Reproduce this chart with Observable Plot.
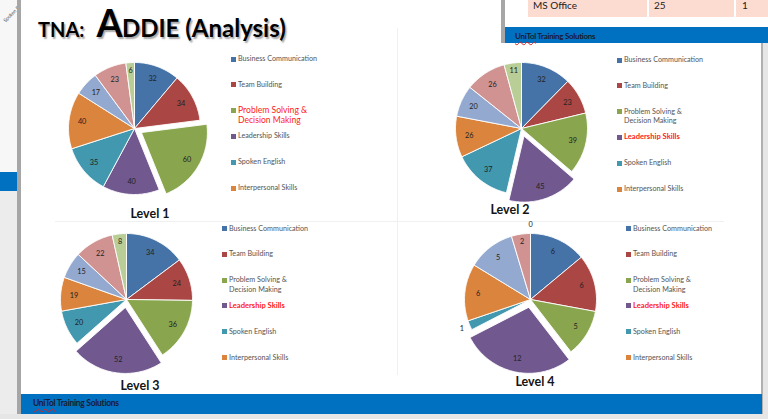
<!DOCTYPE html>
<html>
<head>
<meta charset="utf-8">
<script src="https://cdn.jsdelivr.net/npm/d3@7"></script>
<script src="https://cdn.jsdelivr.net/npm/@observablehq/plot@0.6"></script>
<style>
  html, body { margin: 0; padding: 0; }
  body { width: 768px; height: 419px; position: relative; overflow: hidden; background: #e6e6e6; font-family: Lato, "Open Sans", sans-serif; }
  .abs { position: absolute; }
  .uni { font-weight: bold; color: #1b1b33; font-size: 8.5px; letter-spacing: -0.3px; }
  .uni u { text-decoration: underline wavy #e02020; text-decoration-thickness: 0.7px; text-underline-offset: 2px; }
  .leg { position: absolute; font-size: 7.2px; color: #555; white-space: nowrap; line-height: 9.5px; }
  .sw { position: absolute; width: 5px; height: 5px; }
  .lvl { position: absolute; font-weight: bold; font-size: 12.5px; color: #151515; transform: translate(-50%, -50%); white-space: nowrap; }
</style>
</head>
<body>
<script>
// ---------- data ----------
const categories = ["Business Communication", "Team Building", "Problem Solving & Decision Making",
  "Leadership Skills", "Spoken English", "Interpersonal Skills", "Category 7", "Category 8", "Category 9"];
const legendLines = [["Business Communication"], ["Team Building"], ["Problem Solving  &", "Decision Making"],
  ["Leadership Skills"], ["Spoken English"], ["Interpersonal Skills"]];
const sliceColors = ["#4572A7", "#AA4643", "#89A54E", "#71588F", "#4198AF", "#DB843D", "#93A9CF", "#D19392", "#B9CD96"];
const level1 = [32, 34, 60, 40, 35, 40, 17, 23, 6];
const level2 = [32, 23, 39, 45, 37, 26, 20, 26, 11];
const level3 = [34, 24, 36, 52, 20, 19, 15, 22, 8];
const level4 = [6, 6, 5, 12, 1, 6, 5, 2, 0];
const levelTitles = ["Level 1", "Level 2", "Level 3", "Level 4"];
const explodedSlice = [2, 3, 3, 3];
const highlightedItem = [2, 3, 3, 3];
const highlightBold = [false, true, true, true];
const tableRow = ["MS Office", "25", "1"];

// ---------- layout ----------
const panels = [
  {values: level1, cx: 134, cy: 128, legX: 231, legY: 59,   titleX: 150, titleY: 213},
  {values: level2, cx: 521, cy: 128, legX: 617, legY: 60,   titleX: 510, titleY: 209},
  {values: level3, cx: 126, cy: 299, legX: 222, legY: 228.5, titleX: 140, titleY: 385},
  {values: level4, cx: 530, cy: 299, legX: 626, legY: 228.5, titleX: 535, titleY: 381}
];
const R = 66, HALF = 85, EXPLODE = 8, LEG_STEP = 25.8;

function el(tag, cls, style, html) {
  const e = document.createElement(tag);
  if (cls) e.className = cls;
  Object.assign(e.style, style || {});
  if (html != null) e.innerHTML = html;
  document.body.appendChild(e);
  return e;
}

// ---------- slide backgrounds ----------
el("div", "abs", {left: "0px", top: "0px", width: "17px", height: "172px", background: "#f7f7f7"});
el("div", "abs", {left: "0px", top: "172px", width: "17px", height: "19px", background: "#0070C0"});
el("div", "abs", {left: "0px", top: "191px", width: "17px", height: "228px", background: "#ececec"});
el("div", "abs", {left: "1px", top: "11px", fontSize: "5px", color: "#555", transform: "rotate(-45deg)", whiteSpace: "nowrap"}, "Spoken E");
el("div", "abs", {left: "17px", top: "0px", width: "4px", height: "416px", background: "#a6a6a6"});
el("div", "abs", {left: "21px", top: "0px", width: "741px", height: "414px", background: "#ffffff"});
el("div", "abs", {left: "761px", top: "0px", width: "2px", height: "414px", background: "#b0b0b0"});
el("div", "abs", {left: "21px", top: "394px", width: "741px", height: "20px", background: "#0070C0"});
el("div", "abs uni", {left: "33px", top: "398px"}, "<u>UniTol</u> Training Solutions");
// faint dividers
el("div", "abs", {left: "55px", top: "221px", width: "669px", height: "1px", background: "#f0f0f0"});
el("div", "abs", {left: "397px", top: "28px", width: "1px", height: "347px", background: "#f0f0f0"});
// overlapping slide top right
el("div", "abs", {left: "501px", top: "0px", width: "267px", height: "43px", background: "#ffffff"});
el("div", "abs", {left: "501px", top: "0px", width: "4px", height: "43px", background: "#a6a6a6"});
el("div", "abs", {left: "528px", top: "0px", width: "119px", height: "17px", background: "#FCDCD0"});
el("div", "abs", {left: "649px", top: "0px", width: "85px", height: "17px", background: "#FCDCD0"});
el("div", "abs", {left: "736px", top: "0px", width: "32px", height: "17px", background: "#FCDCD0"});
el("div", "abs", {left: "533px", top: "-1px", fontSize: "10px", color: "#222"}, tableRow[0]);
el("div", "abs", {left: "654px", top: "-1px", fontSize: "10px", color: "#222"}, tableRow[1]);
el("div", "abs", {left: "742px", top: "-1px", fontSize: "10px", color: "#222"}, tableRow[2]);
el("div", "abs", {left: "505px", top: "27px", width: "263px", height: "16px", background: "#0070C0"});
el("div", "abs uni", {left: "515px", top: "30.5px", fontSize: "8px"}, "<u>UniTol</u> Training Solutions");
el("div", "abs", {left: "763px", top: "43px", width: "5px", height: "376px", background: "#e6e6e6"});
el("div", "abs", {left: "0px", top: "414px", width: "768px", height: "5px", background: "#e6e6e6"});

// ---------- title ----------
el("div", "abs", {left: "38px", top: "0px", whiteSpace: "nowrap", fontWeight: "bold", color: "#000",
  fontSize: "37.5px", lineHeight: "1.2",
  textShadow: "1.5px 1.5px 1.5px rgba(0,0,0,0.35)", fontFamily: "Lato, sans-serif"},
  '<span style="font-size:20px;margin-right:12px">TNA:</span><span style="letter-spacing:-0.5px">A</span><span style="font-size:24px">DDIE (Analysis)</span>');

// ---------- pies ----------
panels.forEach((p, pi) => {
  const arcs = d3.pie().sort(null).value(d => d)(p.values);
  const total = d3.sum(p.values);
  const pts = [], labels = [];
  arcs.forEach((a, i) => {
    const mid = (a.startAngle + a.endAngle) / 2;
    const off = i === explodedSlice[pi] ? EXPLODE : 0;
    const ox = off * Math.sin(mid), oy = off * Math.cos(mid);
    if (a.value > 0) {
      const n = Math.max(2, Math.ceil((a.endAngle - a.startAngle) / 0.02));
      pts.push({slice: i, x: ox, y: oy, c: sliceColors[i]});
      for (let k = 0; k <= n; k++) {
        const t = a.startAngle + (a.endAngle - a.startAngle) * k / n;
        pts.push({slice: i, x: ox + R * Math.sin(t), y: oy + R * Math.cos(t), c: sliceColors[i]});
      }
      pts.push({slice: i, x: ox, y: oy, c: sliceColors[i]});
    }
    const lr = a.value <= 1 ? R * 1.13 : (a.value / total < 0.05 ? R * 0.88 : R * 0.8);
    labels.push({x: ox + lr * Math.sin(mid), y: oy + lr * Math.cos(mid), t: String(a.value)});
  });
  const svg = Plot.plot({
    width: HALF * 2, height: HALF * 2, margin: 0,
    x: {domain: [-HALF, HALF], axis: null},
    y: {domain: [-HALF, HALF], axis: null},
    color: {type: "identity"},
    style: {background: "transparent", fontFamily: "Lato, sans-serif", overflow: "visible"},
    marks: [
      Plot.line(pts, {x: "x", y: "y", z: "slice", fill: "c", stroke: "#ffffff", strokeWidth: 0.9, curve: "linear"}),
      Plot.text(labels, {x: "x", y: "y", text: "t", fontSize: 7.3, fill: "#222"})
    ]
  });
  svg.style.position = "absolute";
  svg.style.left = (p.cx - HALF) + "px";
  svg.style.top = (p.cy - HALF) + "px";
  document.body.appendChild(svg);

  // legend
  legendLines.forEach((lines, i) => {
    const y = p.legY + i * LEG_STEP;
    el("div", "sw", {left: p.legX + "px", top: (y - 2.5) + "px", background: sliceColors[i]});
    const hl = i === highlightedItem[pi];
    const st = {left: (p.legX + 7) + "px", top: (y - 5) + "px"};
    if (hl) {
      st.color = "#ff1a1a";
      if (highlightBold[pi]) { st.fontWeight = "bold"; st.fontSize = "7.6px"; }
      else { st.fontSize = "8.6px"; st.top = (y - 5.5) + "px"; st.lineHeight = "10px"; }
    }
    el("div", "leg", st, lines.join("<br>"));
  });

  el("div", "lvl", {left: p.titleX + "px", top: p.titleY + "px"}, levelTitles[pi]);
});
</script>
</body>
</html>
